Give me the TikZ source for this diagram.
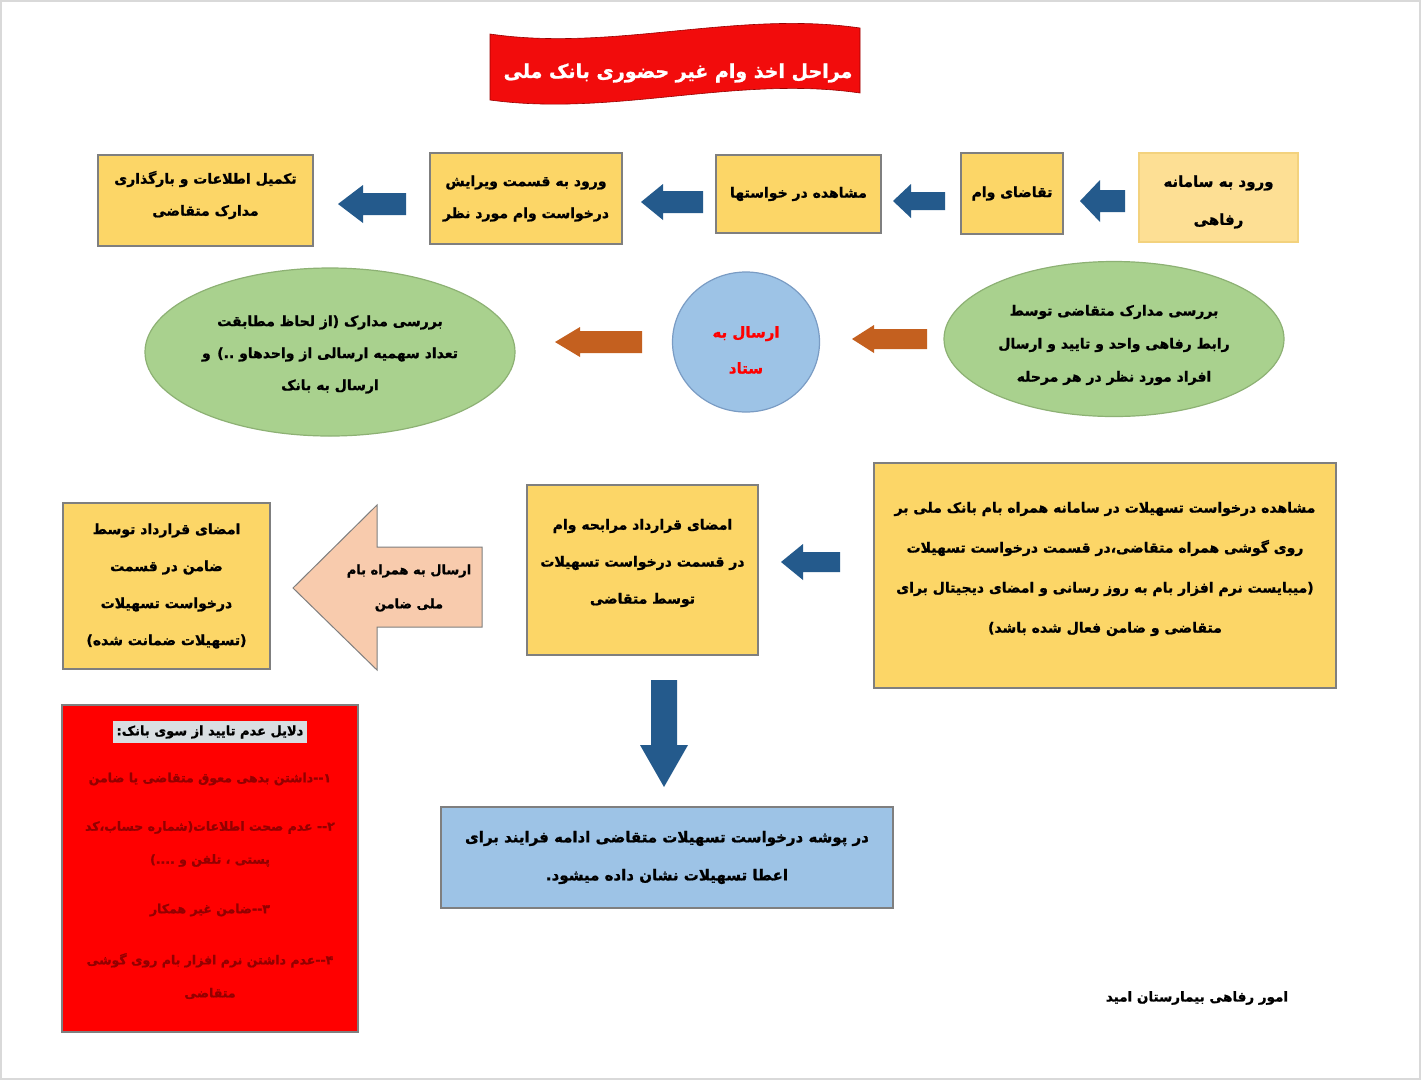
\documentclass[tikz,border=0pt]{standalone}
\usepackage{fontspec}
\usetikzlibrary{shapes.geometric}
\TeXXeTstate=1
\newfontfamily\fa[Script=Arabic, BoldFeatures={FakeBold=1.2}]{DejaVu Sans}
\newcommand\rtxt[1]{\beginR #1\endR}
\definecolor{boxyellow}{HTML}{FCD667}
\definecolor{lightyellow}{HTML}{FDDF94}
\definecolor{lightyellowedge}{HTML}{F3D27E}
\definecolor{boxgray}{HTML}{7F7F7F}
\definecolor{arrowblue}{HTML}{245A8C}
\definecolor{arroworange}{HTML}{C4601F}
\definecolor{ellgreen}{HTML}{A9D18E}
\definecolor{ellgreenedge}{HTML}{8DB174}
\definecolor{circblue}{HTML}{9DC3E6}
\definecolor{circblueedge}{HTML}{7A9CC4}
\definecolor{peach}{HTML}{F8CBAD}
\definecolor{bannerred}{HTML}{F20C0C}
\definecolor{itemred}{HTML}{920000}
\definecolor{headgray}{HTML}{D9DEE2}
\newcommand\larr[7]{%
  \fill[#7] (#1,#3) -- ({#1+#6},{#3-#5}) -- ({#1+#6},{#3-#4}) -- (#2,{#3-#4})
    -- (#2,{#3+#4}) -- ({#1+#6},{#3+#4}) -- ({#1+#6},{#3+#5}) -- cycle;}
\tikzset{
  txt/.style={font=\fa\bfseries\fontsize{14}{32}\selectfont, align=center, text=black},
  ybox/.style={txt, draw=boxgray, line width=1.3pt, fill=boxyellow, inner sep=0pt},
  gell/.style={txt, ellipse, draw=ellgreenedge, line width=1.2pt, fill=ellgreen, inner sep=0pt},
}
\begin{document}
\begin{tikzpicture}[x=1pt,y=-1pt]
\useasboundingbox (0,0) rectangle (1421,1080);
\fill[white] (0,0) rectangle (1421,1080);
\draw[black!15, line width=2pt] (1,1) rectangle (1420,1079);

% title banner
\fill[bannerred, draw=red!60!black, line width=0.6pt]
  (490,34) .. controls (613,52) and (737,10) .. (860,28)
  -- (860,93) .. controls (737,75) and (613,117) .. (490,100) -- cycle;
\node[font=\fa\bfseries\fontsize{19}{24}\selectfont, text=white] (title) at (678,73) {\rtxt{مراحل اخذ وام غیر حضوری بانک ملی}};

% row 1
\node[ybox, fill=lightyellow, draw=lightyellowedge, minimum width=159pt, minimum height=89pt] (A) at (1218.5,197.5) {};
\node[txt, font=\fa\bfseries\fontsize{15}{38}\selectfont] (Atext) at (1218.5,202) {\rtxt{ورود به سامانه}\\\rtxt{رفاهی}};
\node[ybox, minimum width=102pt, minimum height=81pt] (B) at (1012,193.5) {\rtxt{تقاضای وام}};
\node[ybox, minimum width=165pt, minimum height=78pt] (C) at (798.5,194) {\rtxt{مشاهده در خواستها}};
\node[ybox, minimum width=192pt, minimum height=91pt] (D) at (526,198.5) {\rtxt{ورود به قسمت ویرایش}\\\rtxt{درخواست وام مورد نظر}};
\node[ybox, minimum width=215pt, minimum height=91pt] (E) at (205.5,200.5) {};
\node[txt] (Etext) at (205.5,195) {\rtxt{تکمیل اطلاعات و بارگذاری}\\\rtxt{مدارک متقاضی}};

\larr{1080}{1125}{201}{11}{21}{20}{arrowblue}
\larr{893}{945}{201}{9}{17}{18}{arrowblue}
\larr{641}{703}{202}{11}{18}{22}{arrowblue}
\larr{338}{406}{204}{11}{19}{25}{arrowblue}

% row 2
\node[gell, minimum width=340pt, minimum height=155pt] (F) at (1114,339) {};
\node[txt, font=\fa\bfseries\fontsize{14}{33}\selectfont] (Ftext) at (1114,345) {\rtxt{بررسی مدارک متقاضی توسط}\\\rtxt{رابط رفاهی واحد و تایید و ارسال}\\\rtxt{افراد مورد نظر در هر مرحله}};
\node[ellipse, draw=circblueedge, line width=1.2pt, fill=circblue, minimum width=147pt, minimum height=140pt, inner sep=0pt] (G) at (746,342) {};
\node[txt, text=red, font=\fa\bfseries\fontsize{15}{36}\selectfont] (Gtext) at (746,350) {\rtxt{ارسال به}\\\rtxt{ستاد}};
\node[gell, minimum width=370pt, minimum height=168pt] (H) at (330,352) {};
\node[txt] (Htext) at (330,354.5) {\rtxt{بررسی مدارک (از لحاظ مطابقت}\\\rtxt{تعداد سهمیه ارسالی از واحدهاو ..) و}\\\rtxt{ارسال به بانک}};

\larr{852}{927}{339}{10}{14}{22}{arroworange}
\larr{555}{642}{342}{11}{15}{25}{arroworange}

% row 3
\node[ybox, minimum width=462pt, minimum height=225pt] (I) at (1105,575.5) {};
\node[txt, font=\fa\bfseries\fontsize{14}{40}\selectfont] (Itext) at (1105,569) {\rtxt{مشاهده درخواست تسهیلات در سامانه همراه بام بانک ملی بر}\\\rtxt{روی گوشی همراه متقاضی،در قسمت درخواست تسهیلات}\\\rtxt{(میبایست نرم افزار بام به روز رسانی و امضای دیجیتال برای}\\\rtxt{متقاضی و ضامن فعال شده باشد)}};
\node[ybox, minimum width=231pt, minimum height=170pt] (J) at (642.5,570) {};
\node[txt, font=\fa\bfseries\fontsize{14}{37}\selectfont] (Jtext) at (642.5,563) {\rtxt{امضای قرارداد مرابحه وام}\\\rtxt{در قسمت درخواست تسهیلات}\\\rtxt{توسط متقاضی}};
\node[ybox, minimum width=207pt, minimum height=166pt, font=\fa\bfseries\fontsize{14}{37}\selectfont] (K) at (166.5,586) {\rtxt{امضای قرارداد توسط}\\\rtxt{ضامن در قسمت}\\\rtxt{درخواست تسهیلات}\\\rtxt{(تسهیلات ضمانت شده)}};

\larr{781}{840}{562}{10}{18}{22}{arrowblue}

% big peach arrow
\filldraw[fill=peach, draw=boxgray, line width=1pt]
  (293,588) -- (377,505) -- (377,547) -- (482,547) -- (482,627) -- (377,627) -- (377,670) -- cycle;
\node[txt, font=\fa\bfseries\fontsize{13}{34}\selectfont] (P) at (409,588) {\rtxt{ارسال به همراه بام}\\\rtxt{ملی ضامن}};

% down arrow
\fill[arrowblue] (664,787) -- (640,745) -- (651,745) -- (651,680) -- (677,680) -- (677,745) -- (688,745) -- cycle;

\node[txt, draw=boxgray, line width=1.3pt, fill=circblue, minimum width=452pt, minimum height=101pt, font=\fa\bfseries\fontsize{15}{38}\selectfont] (L) at (667,857.5) {\rtxt{در پوشه درخواست تسهیلات متقاضی ادامه فرایند برای}\\\rtxt{اعطا تسهیلات نشان داده میشود.}};

% red box
\node[draw=boxgray, line width=1.3pt, fill=red, minimum width=296pt, minimum height=327pt] (M) at (210,868.5) {};
\node[txt, fill=headgray, inner sep=4pt, font=\fa\bfseries\fontsize{13}{16}\selectfont] (Mh) at (210,732) {\rtxt{دلایل عدم تایید از سوی بانک:}};
\tikzset{item/.style={txt, text=itemred, font=\fa\bfseries\fontsize{12.5}{33}\selectfont}}
\node[item] (M1) at (210,779) {\rtxt{۱--داشتن بدهی معوق متقاضی یا ضامن}};
\node[item] (M2) at (210,844) {\rtxt{۲-- عدم صحت اطلاعات(شماره حساب،کد}\\\rtxt{پستی ، تلفن و ....)}};
\node[item] (M3) at (210,910) {\rtxt{۳--ضامن غیر همکار}};
\node[item] (M4) at (210,976) {\rtxt{۴--عدم داشتن نرم افزار بام روی گوشی}\\\rtxt{متقاضی}};

% footer
\node[txt, font=\fa\bfseries\fontsize{13.5}{16}\selectfont] (foot) at (1197,998) {\rtxt{امور رفاهی بیمارستان امید}};
\end{tikzpicture}
\end{document}
